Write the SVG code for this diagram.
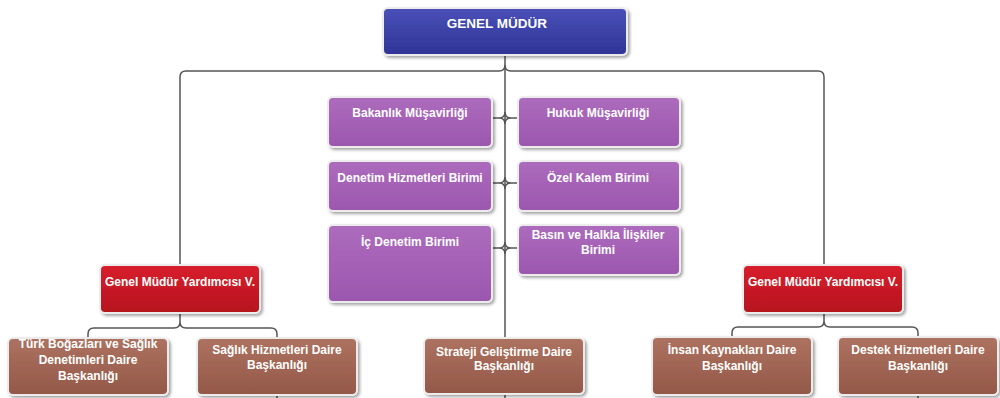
<svg xmlns="http://www.w3.org/2000/svg" width="1000" height="398" viewBox="0 0 1000 398">
<defs>
<linearGradient id="gBlue" x1="0" y1="0" x2="0" y2="1"><stop offset="0" stop-color="#4a50b8"/><stop offset="1" stop-color="#2f3496"/></linearGradient>
<linearGradient id="gPurple" x1="0" y1="0" x2="0" y2="1"><stop offset="0" stop-color="#ad6bbd"/><stop offset="1" stop-color="#9b57ae"/></linearGradient>
<linearGradient id="gRed" x1="0" y1="0" x2="0" y2="1"><stop offset="0" stop-color="#d8202c"/><stop offset="1" stop-color="#b5121e"/></linearGradient>
<linearGradient id="gBrown" x1="0" y1="0" x2="0" y2="1"><stop offset="0" stop-color="#ad7260"/><stop offset="1" stop-color="#935848"/></linearGradient>
<filter id="sh" x="-10%" y="-20%" width="125%" height="150%"><feDropShadow dx="2" dy="2" stdDeviation="1.8" flood-color="#000" flood-opacity="0.35"/></filter>
</defs>
<style>
.box{stroke:#ececec;stroke-width:2;filter:url(#sh)}
.blue{fill:url(#gBlue)}
.purple{fill:url(#gPurple)}
.red{fill:url(#gRed)}
.brown{fill:url(#gBrown)}
.t{font-family:"Liberation Sans",Arial,sans-serif;font-weight:bold;font-size:12px;fill:#fff;text-anchor:middle}
.conn{fill:none;stroke:#555;stroke-width:1.5}
</style>
<rect width="1000" height="398" fill="#fff"/>
<g id="connectors">
<path class="conn" d="M505,55 V338 M505,394 V398"/>
<path class="conn" d="M180,265 V77 Q180,71 186,71 H499 Q505,71 505,65 M505,65 Q505,71 511,71 H818 Q824,71 824,77 V265"/>
<path class="conn" d="M492,118 H499 Q505,118 505,112 M499,118 Q505,118 505,124 M518,118 H511 Q505,118 505,112 M511,118 Q505,118 505,124"/>
<path class="conn" d="M492,183 H499 Q505,183 505,177 M499,183 Q505,183 505,189 M518,183 H511 Q505,183 505,177 M511,183 Q505,183 505,189"/>
<path class="conn" d="M492,248 H499 Q505,248 505,242 M499,248 Q505,248 505,254 M518,248 H511 Q505,248 505,242 M511,248 Q505,248 505,254"/>
<path class="conn" d="M180,313 V322 Q180,328 174,328 H94 Q88,328 88,334 V338 M180,322 Q180,328 186,328 H271 Q277,328 277,334 V338"/>
<path class="conn" d="M824,313 V321 Q824,327 818,327 H738 Q732,327 732,333 V337 M824,321 Q824,327 830,327 H912 Q918,327 918,333 V337"/>
<path class="conn" d="M277,395 V398 M918,395 V398"/>
</g>
<g id="genel-mudur"><rect class="box blue" x="383" y="8" width="244" height="47" rx="5"/><text class="t" x="497" y="28" style="font-size:13.5px">GENEL MÜDÜR</text></g>
<g id="bakanlik"><rect class="box purple" x="328" y="97" width="164" height="50" rx="5"/><text class="t" x="410" y="117">Bakanlık Müşavirliği</text></g>
<g id="hukuk"><rect class="box purple" x="518" y="97" width="162" height="50" rx="5"/><text class="t" x="598" y="117">Hukuk Müşavirliği</text></g>
<g id="denetim-hizmetleri"><rect class="box purple" x="328" y="161" width="164" height="50" rx="5"/><text class="t" x="410" y="182">Denetim Hizmetleri Birimi</text></g>
<g id="ozel-kalem"><rect class="box purple" x="518" y="161" width="162" height="50" rx="5"/><text class="t" x="598" y="182">Özel Kalem Birimi</text></g>
<g id="ic-denetim"><rect class="box purple" x="328" y="225" width="164" height="77" rx="5"/><text class="t" x="410" y="246">İç Denetim Birimi</text></g>
<g id="basin"><rect class="box purple" x="518" y="225" width="162" height="50" rx="5"/><text class="t" x="598" y="239">Basın ve Halkla İlişkiler</text><text class="t" x="598" y="254">Birimi</text></g>
<g id="gmy-left"><rect class="box red" x="100" y="265" width="160" height="48" rx="5"/><text class="t" x="180" y="286">Genel Müdür Yardımcısı V.</text></g>
<g id="gmy-right"><rect class="box red" x="743" y="265" width="160" height="48" rx="5"/><text class="t" x="823" y="286">Genel Müdür Yardımcısı V.</text></g>
<g id="turk-bogazlari"><rect class="box brown" x="8" y="338" width="160" height="57" rx="5"/><text class="t" x="88" y="348">Türk Boğazları ve Sağlık</text><text class="t" x="88" y="364">Denetimleri Daire</text><text class="t" x="88" y="380">Başkanlığı</text></g>
<g id="saglik-hizmetleri"><rect class="box brown" x="197" y="338" width="160" height="57" rx="5"/><text class="t" x="277" y="354">Sağlık Hizmetleri Daire</text><text class="t" x="277" y="369">Başkanlığı</text></g>
<g id="strateji"><rect class="box brown" x="424" y="338" width="160" height="56" rx="5"/><text class="t" x="504" y="356">Strateji Geliştirme Daire</text><text class="t" x="504" y="370">Başkanlığı</text></g>
<g id="insan-kaynaklari"><rect class="box brown" x="652" y="337" width="160" height="58" rx="5"/><text class="t" x="732" y="354">İnsan Kaynakları Daire</text><text class="t" x="732" y="370">Başkanlığı</text></g>
<g id="destek-hizmetleri"><rect class="box brown" x="838" y="337" width="160" height="58" rx="5"/><text class="t" x="918" y="354">Destek Hizmetleri Daire</text><text class="t" x="918" y="370">Başkanlığı</text></g>
</svg>
